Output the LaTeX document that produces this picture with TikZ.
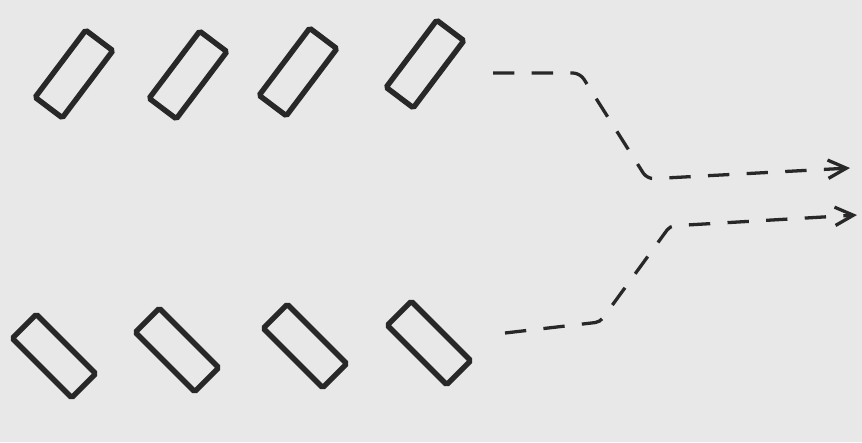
\documentclass[tikz,border=0pt]{standalone}
\usetikzlibrary{arrows.meta}
\definecolor{paper}{RGB}{232,232,232}
\definecolor{ink}{RGB}{40,40,40}
\tikzset{
  slab/.style={draw=ink, line width=4.6pt, rounded corners=1.5pt,
    minimum width=2.52cm, minimum height=1.02cm, inner sep=0pt},
  flow/.style={draw=ink, line width=2.8pt, dash pattern=on 0.64cm off 0.52cm,
    ->, >={Straight Barb[length=0.55cm,width=0.55cm]}},
}
\begin{document}
\begin{tikzpicture}[x=0.03cm,y=-0.03cm]
\fill[paper] (0,0) rectangle (862,442);
\useasboundingbox (0,0) rectangle (862,442);
% upper row
\foreach \n/\x/\y in {1/74/74,2/188/75,3/298/72,4/425/64}
  \node[slab, rotate=53] (t\n) at (\x,\y) {};
% lower row
\foreach \n/\x/\y in {1/54/356,2/177/350,3/305/346,4/429/343}
  \node[slab, rotate=-45] (b\n) at (\x,\y) {};
% the two paths
\coordinate (s1) at (493,73);
\coordinate (k1) at (580,73);
\coordinate (k2) at (647,179);
\coordinate (e1) at (850,168);
\coordinate (s2) at (505,333);
\coordinate (k3) at (600,322);
\coordinate (k4) at (670,226);
\coordinate (e2) at (857,215);
\draw[flow, rounded corners=6pt] (s1) -- (k1) -- (k2) -- (e1);
\draw[flow, rounded corners=4pt] (s2) -- (k3) -- (k4) -- (e2);
\end{tikzpicture}
\end{document}
